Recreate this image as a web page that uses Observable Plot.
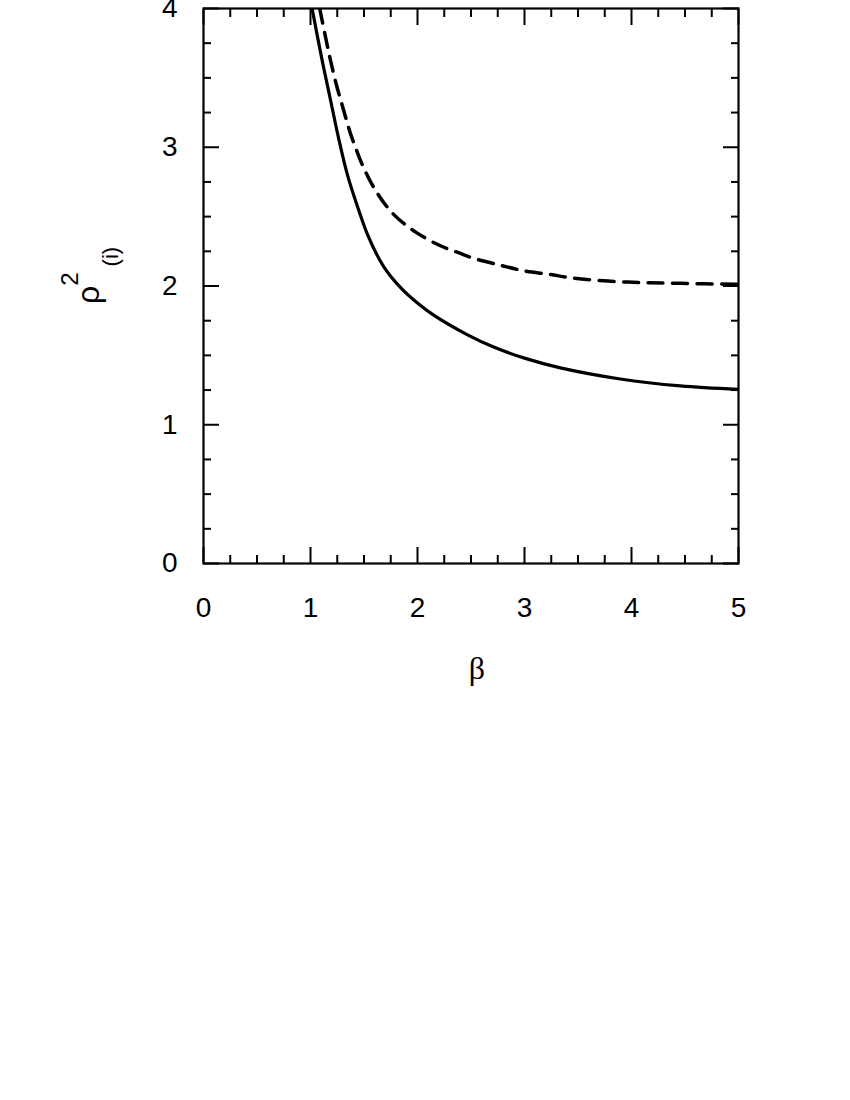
<!DOCTYPE html>
<html>
<head>
<meta charset="utf-8">
<script src="https://cdn.jsdelivr.net/npm/d3@7"></script>
<script src="https://cdn.jsdelivr.net/npm/@observablehq/plot@0.6"></script>
<style>
  html, body { margin: 0; padding: 0; background: #fff; }
  #chart svg { display: block; }
</style>
</head>
<body>
<div id="chart"></div>
<script>
// Solid curve
const betaSolid = [1.015, 1.10, 1.19, 1.264, 1.342, 1.436, 1.544, 1.684, 1.840, 2.011, 2.151, 2.463, 2.712, 3.0, 3.335, 3.895, 4.455, 5.0];
const rhoSolid  = [4.00, 3.66, 3.33, 3.06, 2.81, 2.58, 2.35, 2.14, 1.99, 1.87, 1.79, 1.65, 1.56, 1.48, 1.41, 1.33, 1.28, 1.255];

// Dashed curve
const betaDashed = [1.086, 1.180, 1.242, 1.301, 1.373, 1.420, 1.492, 1.607, 1.772, 1.980, 2.214, 2.401, 2.523, 2.774, 2.989, 3.241, 3.456, 3.961, 4.456, 5.0];
const rhoDashed  = [4.00, 3.65, 3.45, 3.29, 3.10, 3.00, 2.86, 2.69, 2.52, 2.39, 2.29, 2.235, 2.20, 2.15, 2.11, 2.083, 2.057, 2.028, 2.019, 2.012];

// Tick values
const xMajor = [0, 1, 2, 3, 4, 5];
const xMinor = [0.25, 0.5, 0.75, 1.25, 1.5, 1.75, 2.25, 2.5, 2.75, 3.25, 3.5, 3.75, 4.25, 4.5, 4.75];
const yMajor = [0, 1, 2, 3, 4];
const yMinor = [0.25, 0.5, 0.75, 1.25, 1.5, 1.75, 2.25, 2.5, 2.75, 3.25, 3.5, 3.75];

const solid = betaSolid.map((b, i) => ({beta: b, rho: rhoSolid[i]}));
const dashed = betaDashed.map((b, i) => ({beta: b, rho: rhoDashed[i]}));

const FONT = "'Liberation Sans', Arial, Helvetica, sans-serif";
const noText = {fill: "none", tickFormat: () => "", label: null, strokeWidth: 2};

const plot = Plot.plot({
  width: 850,
  height: 700,
  marginTop: 8,
  marginBottom: 137,
  marginLeft: 203,
  marginRight: 112,
  style: {fontFamily: FONT, background: "#fff", color: "#000"},
  x: {domain: [0, 5]},
  y: {domain: [0, 4]},
  marks: [
    // tick labels
    Plot.axisX(xMajor, {anchor: "bottom", tickSize: 0, tickPadding: 34, fontSize: 28, label: null, tickFormat: d => String(d)}),
    Plot.axisY(yMajor, {anchor: "left", tickSize: 0, tickPadding: 26, fontSize: 28, label: null, tickFormat: d => String(d)}),
    // inward ticks on all sides
    Plot.axisX(xMajor, {anchor: "bottom", tickSize: -16, ...noText}),
    Plot.axisX(xMinor, {anchor: "bottom", tickSize: -8, ...noText}),
    Plot.axisX(xMajor, {anchor: "top", tickSize: -16, ...noText}),
    Plot.axisX(xMinor, {anchor: "top", tickSize: -8, ...noText}),
    Plot.axisY(yMajor, {anchor: "left", tickSize: -16, ...noText}),
    Plot.axisY(yMinor, {anchor: "left", tickSize: -8, ...noText}),
    Plot.axisY(yMajor, {anchor: "right", tickSize: -16, ...noText}),
    Plot.axisY(yMinor, {anchor: "right", tickSize: -8, ...noText}),
    // curves
    Plot.line(solid, {x: "beta", y: "rho", stroke: "#000", strokeWidth: 3.2, curve: "catmull-rom", clip: true}),
    Plot.line(dashed, {x: "beta", y: "rho", stroke: "#000", strokeWidth: 3.5, strokeDasharray: "15,9.5", curve: "catmull-rom", clip: true}),
    Plot.frame({stroke: "#000", strokeWidth: 2.2})
  ]
});

document.getElementById("chart").appendChild(plot);

const svg = d3.select(plot);
// make sure tick labels use the intended size
svg.selectAll('g[aria-label$="tick label"] text').style("font-size", "28px");

// x-axis label
svg.append("text")
  .attr("x", 477)
  .attr("y", 679)
  .attr("text-anchor", "middle")
  .attr("font-family", "'Liberation Serif', 'DejaVu Serif', serif")
  .attr("font-size", 32)
  .attr("fill", "#000")
  .text("β");

// y-axis label: ρ²(i), rotated
const yl = svg.append("text")
  .attr("transform", "translate(99,304) rotate(-90)")
  .attr("text-anchor", "start")
  .attr("font-family", FONT)
  .attr("fill", "#000");
yl.append("tspan").attr("font-size", 32).text("ρ");
yl.append("tspan").attr("font-size", 24).attr("dy", -21).text("2");
yl.append("tspan").attr("font-size", 22).attr("dy", 40).attr("dx", 6).text("(i)");
</script>
</body>
</html>
